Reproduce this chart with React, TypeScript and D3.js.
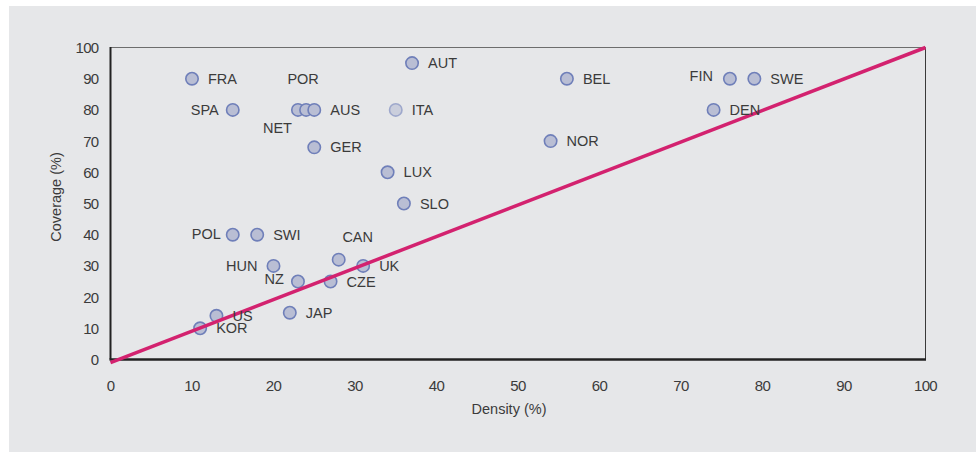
import React from "react";
import * as d3 from "d3";

const countries = ["FRA","SPA","NET","POR","AUS","GER","AUT","ITA","LUX","SLO","BEL","NOR","FIN","SWE","DEN","POL","SWI","HUN","CAN","UK","NZ","CZE","JAP","US","KOR"];
const density = [10,15,23,24,25,25,37,35,34,36,56,54,76,79,74,15,18,20,28,31,23,27,22,13,11];
const coverage = [90,80,80,80,80,68,95,80,60,50,90,70,90,90,80,40,40,30,32,30,25,25,15,14,10];
const xTicks = [0,10,20,30,40,50,60,70,80,90,100];
const yTicks = [0,10,20,30,40,50,60,70,80,90,100];
const lineX = [0, 100];
const lineY = [-1, 100];

// label placement: [dx, dy, anchor]
const labelPlace: Record<string, [number, number, string]> = {
  FRA: [16, 0, "start"], SPA: [-14, 0, "end"], NET: [-6, 18, "end"], POR: [-3, -31, "middle"],
  AUS: [16, 0, "start"], GER: [16, 0, "start"], AUT: [16, 0, "start"], ITA: [16, 0, "start"],
  LUX: [16, 0, "start"], SLO: [16, 0, "start"], BEL: [16, 0, "start"], NOR: [16, 0, "start"],
  FIN: [-17, -3, "end"], SWE: [16, 0, "start"], DEN: [16, 0, "start"], POL: [-12, -1, "end"],
  SWI: [16, 0, "start"], HUN: [-16, 0, "end"], CAN: [19, -23, "middle"], UK: [16, 0, "start"],
  NZ: [-14, -3, "end"], CZE: [16, 0, "start"], JAP: [16, 0, "start"], US: [16, 0, "start"],
  KOR: [16, 0, "start"],
};

export default function App() {
  const W = 976, H = 452;
  const x = d3.scaleLinear().domain([0, 100]).range([110.5, 925.5]);
  const y = d3.scaleLinear().domain([0, 100]).range([359.5, 47.5]);
  const font = "'Liberation Sans', Arial, Helvetica, sans-serif";
  const line = d3.line<number>().x((d) => x(lineX[d])).y((d) => y(lineY[d]));
  const txt = "#3b3b3b";
  return (
    <svg width={W} height={H} style={{ position: "absolute", left: 0, top: 0, background: "#fff" }} fontFamily={font}>
      <rect x={9} y={6} width={967} height={446} fill="#e6e7e9" />
      {/* frame */}
      <line x1={x(0)} x2={x(100)} y1={y(100)} y2={y(100)} stroke="#6d6d6d" strokeWidth={1.2} />
      <line x1={x(100)} x2={x(100)} y1={y(100)} y2={y(0)} stroke="#3a3a3a" strokeWidth={1} />
      <line x1={x(0)} x2={x(0)} y1={y(100) - 0.5} y2={y(0)} stroke="#222" strokeWidth={2} />
      <line x1={x(0) - 1} x2={x(100) + 0.5} y1={y(0)} y2={y(0)} stroke="#222" strokeWidth={2.5} />
      {xTicks.map((t) => (
        <text key={"x" + t} x={x(t)} y={391} textAnchor="middle" fontSize={15} fill={txt} letterSpacing={-0.7}>{t}</text>
      ))}
      {yTicks.map((t) => (
        <text key={"y" + t} x={98.5} y={y(t) + 5.5} textAnchor="end" fontSize={15} fill={txt} letterSpacing={-0.7}>{t}</text>
      ))}
      <text x={509} y={414} textAnchor="middle" fontSize={14.5} fill={txt}>Density (%)</text>
      <text transform="translate(61,197) rotate(-90)" textAnchor="middle" fontSize={14.5} fill={txt}>Coverage (%)</text>
      {countries.map((c, i) => (
        <circle key={c} cx={x(density[i])} cy={y(coverage[i])} r={6.2}
          fill="#b9bed4" stroke="#6f7fb9" strokeWidth={1.6} opacity={c === "ITA" ? 0.6 : 1} />
      ))}
      <path d={line([0, 1]) || ""} stroke="#d3226f" strokeWidth={3.5} fill="none" strokeLinecap="butt" />
      {countries.map((c, i) => {
        const [dx, dy, a] = labelPlace[c];
        return (
          <text key={"l" + c} x={x(density[i]) + dx} y={y(coverage[i]) + dy + 5} textAnchor={a}
            fontSize={14.5} fill={txt}>{c}</text>
        );
      })}
    </svg>
  );
}
